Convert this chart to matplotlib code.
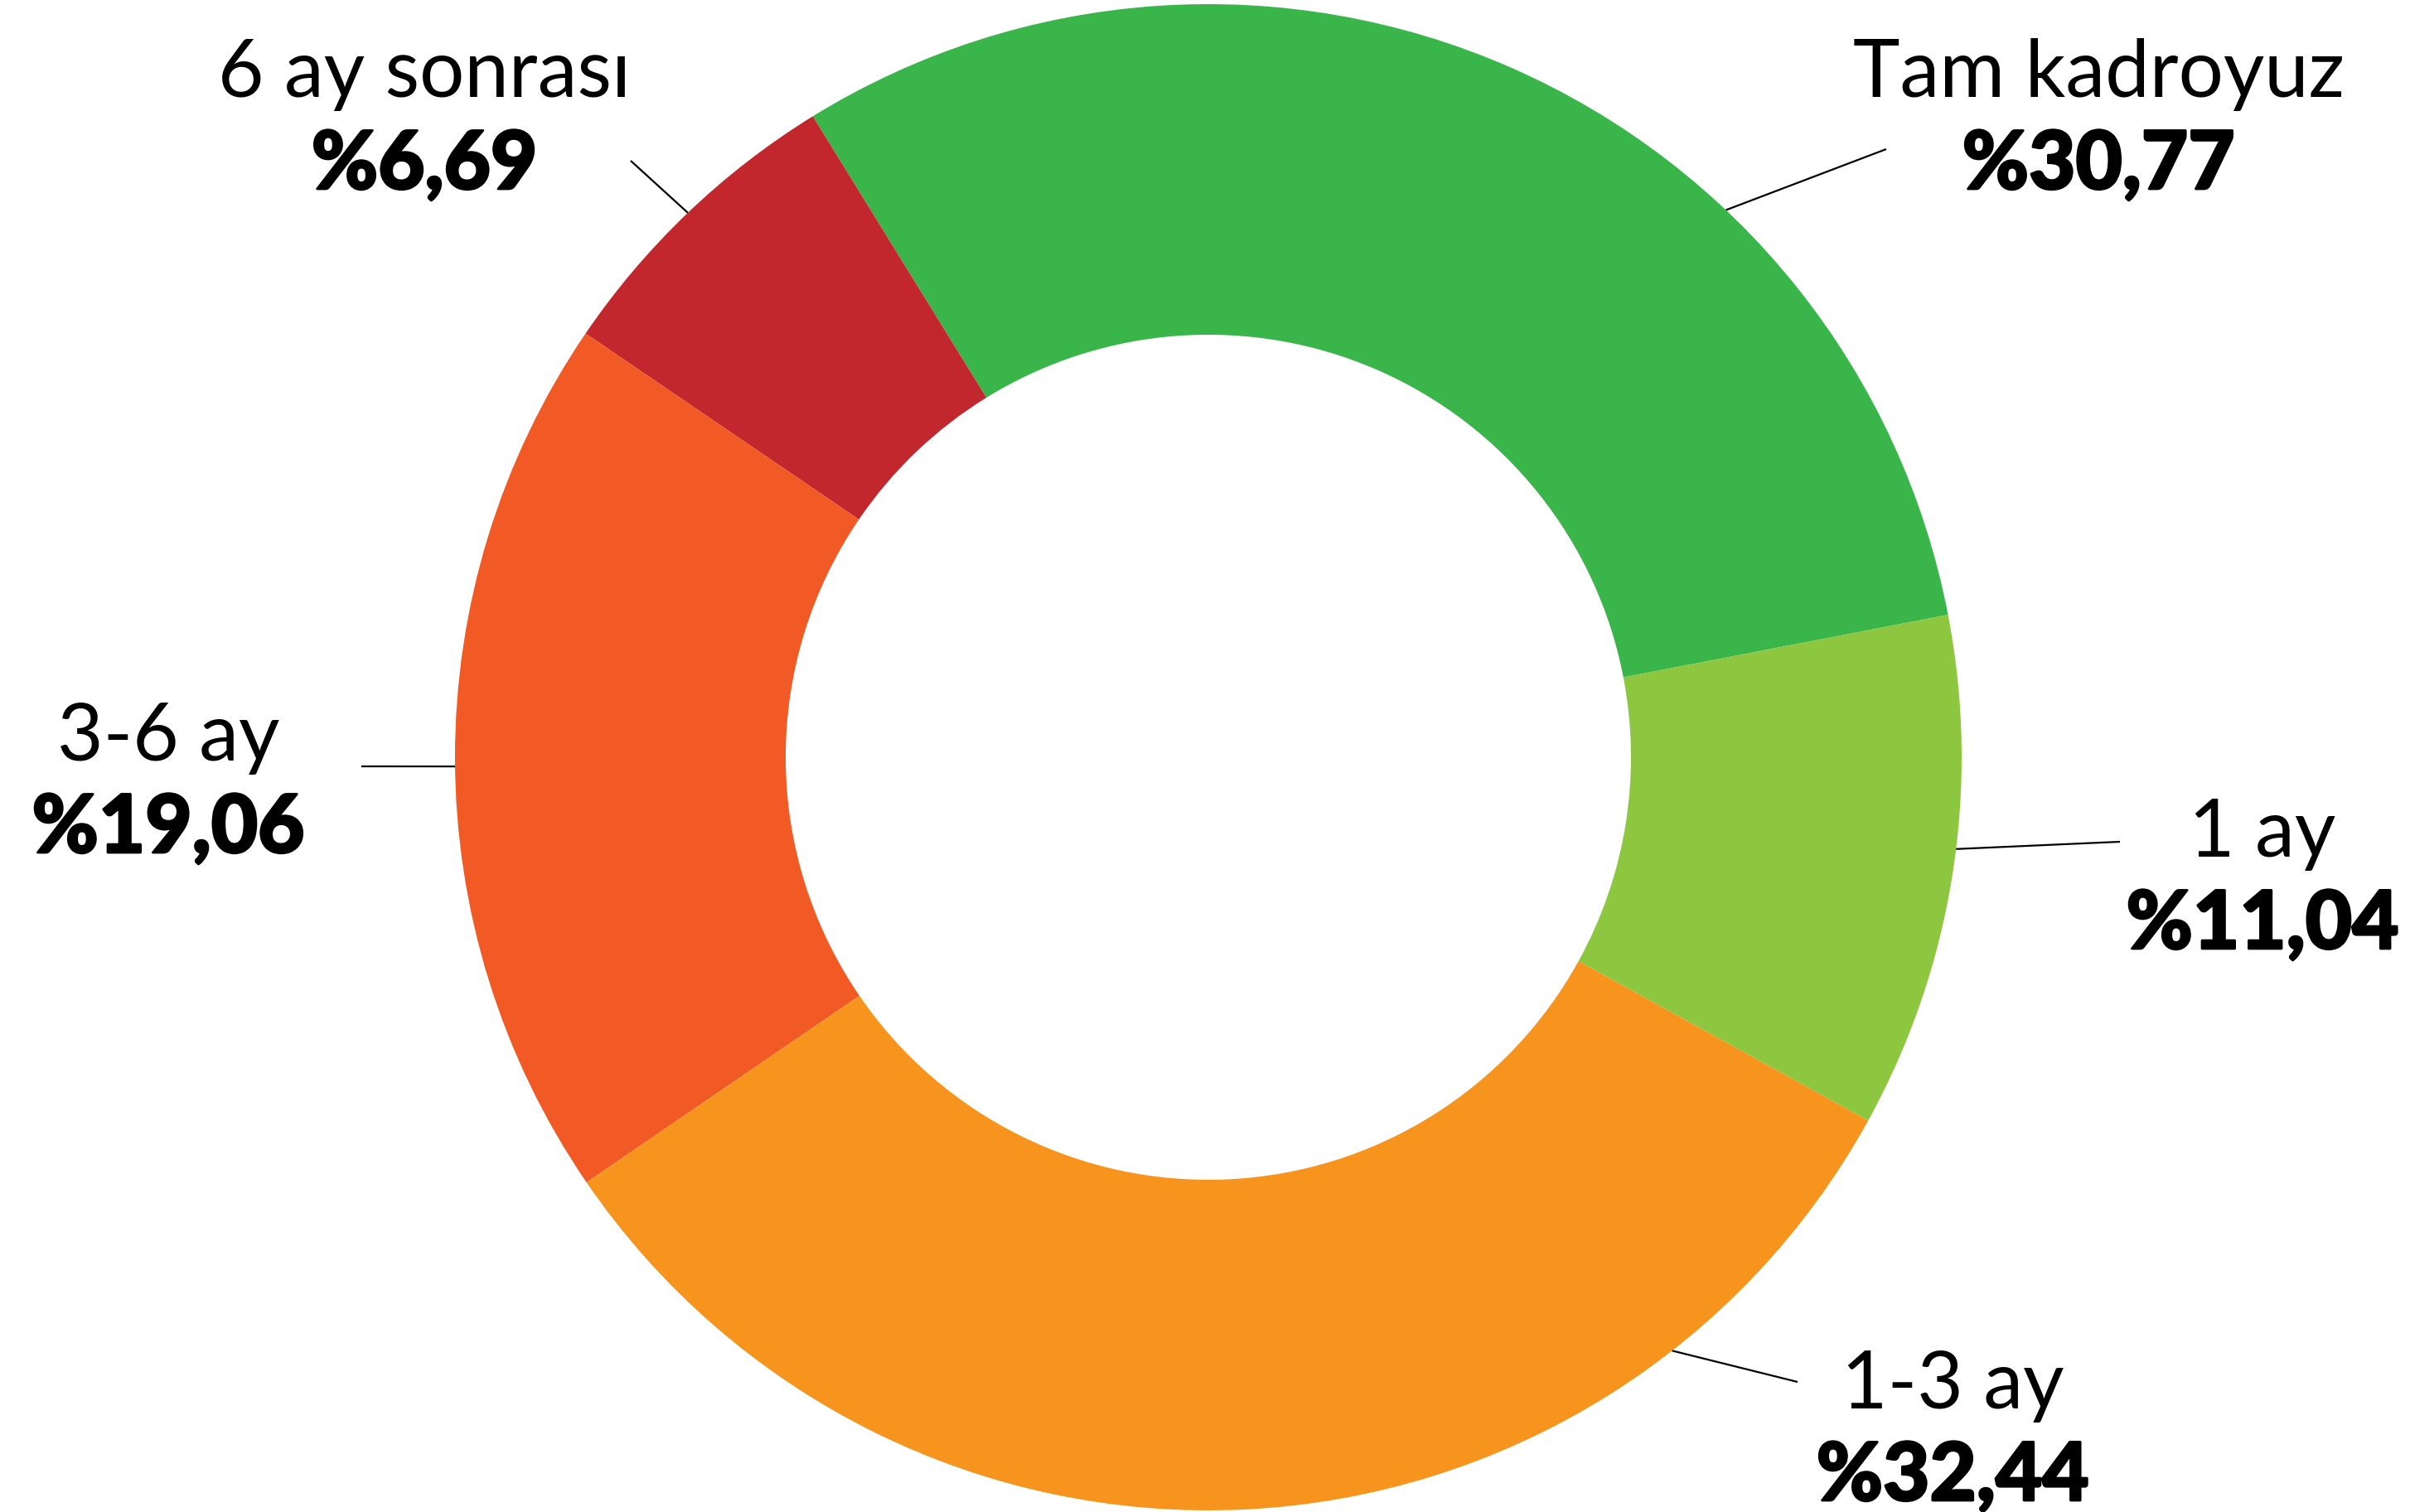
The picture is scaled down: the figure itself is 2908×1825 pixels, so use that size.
import matplotlib.pyplot as plt
import matplotlib.patheffects as pe
import numpy as np

# Dağılım verisi
etiketler = ['Tam kadroyuz', '6 ay sonrası', '3-6 ay', '1-3 ay', '1 ay']
oranlar = [30.77, 6.69, 19.06, 32.44, 11.04]
renkler = ['#39B54A', '#C1272D', '#F15A24', '#F7941D', '#8DC63F']

plt.rcParams['font.family'] = ['Lato', 'DejaVu Sans']

W, H = 2908, 1825
fig = plt.figure(figsize=(W / 100, H / 100), dpi=100)
ax = fig.add_axes([0, 0, 1, 1])

cx, cy = 1458, H - 914
R = 909
ax.pie(oranlar, colors=renkler, startangle=10.9, counterclock=True,
       radius=R, center=(cx, cy),
       wedgeprops=dict(width=R - 510, linewidth=0))
ax.set_xlim(0, W)
ax.set_ylim(0, H)
ax.set_aspect('equal')
ax.axis('off')

# etiket yerleri (piksel, üstten): metin x, 1. satir taban, cizgi acisi, cizgi ucu
yerlesim = {
    'Tam kadroyuz': (2532, 117, 46.6, (2276, 180)),
    '6 ay sonrası': (512, 117, 133.7, (761, 194)),
    '3-6 ay': (203, 918, 180.7, (436, 925)),
    '1-3 ay': (2356, 1700, -52.0, (2169, 1668)),
    '1 ay': (2730, 1034, -7.0, (2558, 1016)),
}

kalin = [pe.withStroke(linewidth=2, foreground='black')]

for ad, oran in zip(etiketler, oranlar):
    tx, ty, aci, uc = yerlesim[ad]
    x0 = cx + R * np.cos(np.radians(aci))
    y0 = cy + R * np.sin(np.radians(aci))
    ax.plot([x0, uc[0]], [y0, H - uc[1]], color='black', lw=1.6,
            solid_capstyle='butt')
    ax.text(tx, H - ty, ad, ha='center', va='baseline', fontsize=69,
            color='black')
    yuzde = '%' + f'{oran:.2f}'.replace('.', ',')
    ax.text(tx, H - ty - 111, yuzde, ha='center', va='baseline', fontsize=70,
            fontweight='black', color='black', path_effects=kalin)

plt.savefig('out.png', dpi=100)
